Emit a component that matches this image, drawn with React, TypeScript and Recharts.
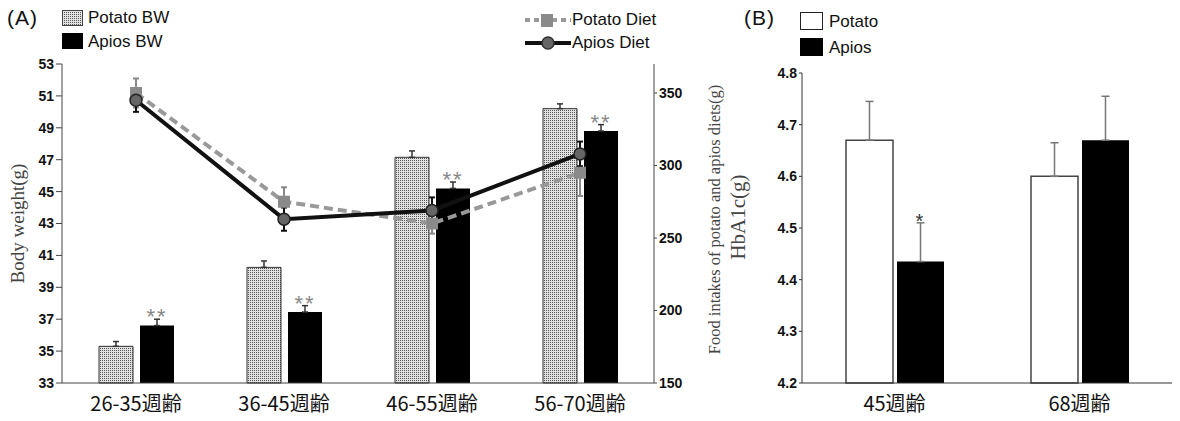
import React from "react";
import {
  ComposedChart,
  BarChart,
  Bar,
  Line,
  XAxis,
  YAxis,
  ErrorBar,
  LabelList,
  Legend,
  Label,
} from "recharts";

// (A) body weight + diet intake by age group
const ageGroups = ["26-35週齢", "36-45週齢", "46-55週齢", "56-70週齢"];
const potatoBW = [35.3, 40.25, 47.15, 50.2];
const potatoBWErr = [0.3, 0.4, 0.4, 0.3];
const apiosBW = [36.6, 37.45, 45.2, 48.8];
const apiosBWErr = [0.4, 0.4, 0.4, 0.4];
const potatoDiet = [350, 275, 260, 295];
const potatoDietErr = [10, 10, 7, 16];
const apiosDiet = [345, 263, 269, 308];
const apiosDietErr = [8, 8, 9, 8.5];
const bwSig = ["**", "**", "**", "**"];
const bwTicks = [33, 35, 37, 39, 41, 43, 45, 47, 49, 51, 53];
const dietTicks = [150, 200, 250, 300, 350];

// (B) HbA1c
const hbAges = ["45週齢", "68週齢"];
const potatoHb = [4.67, 4.6];
const potatoHbErr = [0.075, 0.065];
const apiosHb = [4.435, 4.67];
const apiosHbErr = [0.075, 0.085];
const hbSig = ["*", ""];
const hbTicks = [4.2, 4.3, 4.4, 4.5, 4.6, 4.7, 4.8];

const bwData = ageGroups.map((age, i) => ({
  age,
  potatoBW: potatoBW[i],
  potatoBWErr: [0, potatoBWErr[i]],
  apiosBW: apiosBW[i],
  apiosBWErr: [0, apiosBWErr[i]],
  potatoDiet: potatoDiet[i],
  potatoDietErr: potatoDietErr[i],
  apiosDiet: apiosDiet[i],
  apiosDietErr: apiosDietErr[i],
}));

const hbData = hbAges.map((age, i) => ({
  age,
  potato: potatoHb[i],
  potatoErr: [0, potatoHbErr[i]],
  apios: apiosHb[i],
  apiosErr: [0, apiosHbErr[i]],
}));

const sans = '"Liberation Sans", Arial, sans-serif';
const serif = '"Liberation Serif", "Times New Roman", serif';
const jp = '"Noto Sans CJK JP", sans-serif';

const tickStyle = { fontFamily: sans, fontSize: 14, fontWeight: 700, fill: "#111" };
const catStyle = { fontFamily: jp, fontSize: 20, fill: "#111" };

// stars sit just above the error bar; pxPerUnit comes from the plot height / domain
const starLabel =
  (sig: string[], errs: number[], pxPerUnit: number, size: number, color: string) =>
  (props: any) => {
    const { x, y, width, index } = props;
    const s = sig[index];
    if (!s) return null;
    const errTop = y - errs[index] * pxPerUnit;
    return (
      <text
        key={`star-${index}`}
        x={x + width / 2}
        y={errTop + 5}
        textAnchor="middle"
        fontFamily={sans}
        fontSize={size}
        fill={color}
        letterSpacing={2}
      >
        {s}
      </text>
    );
  };

const axisTitle =
  (text: string, dx: number, size: number, dy = 0) =>
  (props: any) => {
    const vb = props.viewBox;
    const cx = vb.x + dx;
    const cy = vb.y + vb.height / 2 + dy;
    return (
      <text
        x={cx}
        y={cy}
        transform={`rotate(-90 ${cx} ${cy})`}
        textAnchor="middle"
        dominantBaseline="central"
        fontFamily={serif}
        fontSize={size}
        fill="#444"
      >
        {text}
      </text>
    );
  };

const SquareDot = (p: any) => (
  <rect key={`sq-${p.index}`} x={p.cx - 6} y={p.cy - 6} width={12} height={12} fill="#8a8a8a" />
);

const txt = (left: number, cy: number, size: number, extra: any = {}) => ({
  position: "absolute" as const,
  left,
  top: cy - 11,
  lineHeight: "22px",
  fontSize: size,
  whiteSpace: "nowrap" as const,
  ...extra,
});

function LegendA() {
  return (
    <div style={{ position: "relative", width: 730, height: 60, fontFamily: sans, color: "#111" }}>
      <span style={txt(7, 18, 21, { letterSpacing: 1 })}>(A)</span>
      <svg style={{ position: "absolute", left: 62, top: 10 }} width={22} height={16}>
        <rect x={0.5} y={0.5} width={20} height={15} fill="url(#bwDots)" stroke="#444" />
      </svg>
      <span style={txt(88, 18, 17)}>Potato BW</span>
      <svg style={{ position: "absolute", left: 62, top: 33 }} width={22} height={16}>
        <rect x={0.5} y={0.5} width={20} height={15} fill="#000" stroke="#000" />
      </svg>
      <span style={txt(88, 42, 17)}>Apios BW</span>
      <svg style={{ position: "absolute", left: 525, top: 12 }} width={46} height={16}>
        <line x1={0} y1={8} x2={46} y2={8} stroke="#999" strokeWidth={4} strokeDasharray="5 4" />
        <rect x={16} y={2} width={12} height={13} fill="#8a8a8a" />
      </svg>
      <span style={txt(572, 20, 17)}>Potato Diet</span>
      <svg style={{ position: "absolute", left: 525, top: 35 }} width={46} height={16}>
        <line x1={0} y1={8} x2={46} y2={8} stroke="#111" strokeWidth={4} />
        <circle cx={23} cy={8} r={6} fill="#666" stroke="#333" strokeWidth={1.5} />
      </svg>
      <span style={txt(572, 43, 17)}>Apios Diet</span>
    </div>
  );
}

function LegendB() {
  return (
    <div style={{ position: "relative", width: 460, height: 60, fontFamily: sans, color: "#111" }}>
      <span style={txt(24, 18, 21, { letterSpacing: 1 })}>(B)</span>
      <svg style={{ position: "absolute", left: 80, top: 12 }} width={24} height={19}>
        <rect x={0.5} y={0.5} width={22} height={17} fill="#fff" stroke="#222" />
      </svg>
      <span style={txt(109, 22, 17)}>Potato</span>
      <svg style={{ position: "absolute", left: 80, top: 38 }} width={24} height={19}>
        <rect x={0.5} y={0.5} width={22} height={17} fill="#000" stroke="#000" />
      </svg>
      <span style={txt(109, 48, 17)}>Apios</span>
    </div>
  );
}

function BodyWeightChart() {
  return (
    <ComposedChart
      width={730}
      height={421}
      data={bwData}
      margin={{ top: 64, right: 0, bottom: 0, left: 0 }}
      barGap={7}
    >
      <XAxis
        dataKey="age"
        height={38}
        tickLine={false}
        tickSize={6}
        tickMargin={8}
        tick={catStyle}
        stroke="#444"
      />
      <YAxis
        yAxisId="bw"
        width={62}
        domain={[33, 53]}
        ticks={bwTicks}
        interval={0}
        tickSize={6}
        tickMargin={2}
        tick={tickStyle}
        stroke="#444"
      >
        <Label content={axisTitle("Body weight(g)", 17, 19)} />
      </YAxis>
      <YAxis
        yAxisId="diet"
        orientation="right"
        width={76}
        domain={[150, 370]}
        ticks={dietTicks}
        interval={0}
        tickSize={3}
        tickMargin={2}
        tick={{ ...tickStyle, textAnchor: "start" }}
        stroke="#444"
      >
        <Label content={axisTitle("Food intakes of potato and apios diets(g)", 60, 16.5, -4)} />
      </YAxis>
      <Legend
        layout="horizontal"
        verticalAlign="middle"
        align="center"
        wrapperStyle={{ left: 0, top: 0, width: 730, height: 60 }}
        content={() => <LegendA />}
      />
      <Bar
        yAxisId="bw"
        dataKey="potatoBW"
        name="Potato BW"
        barSize={34}
        fill="url(#bwDots)"
        stroke="#333"
        strokeWidth={1}
        isAnimationActive={false}
      >
        <ErrorBar dataKey="potatoBWErr" direction="y" width={3} stroke="#333" strokeWidth={1.5} />
      </Bar>
      <Bar
        yAxisId="bw"
        dataKey="apiosBW"
        name="Apios BW"
        barSize={34}
        fill="#000"
        isAnimationActive={false}
      >
        <ErrorBar dataKey="apiosBWErr" direction="y" width={3} stroke="#333" strokeWidth={1.5} />
        <LabelList dataKey="apiosBW" content={starLabel(bwSig, apiosBWErr, 15.95, 22, "#888")} />
      </Bar>
      <Line
        yAxisId="diet"
        dataKey="potatoDiet"
        name="Potato Diet"
        type="linear"
        stroke="#999"
        strokeWidth={4}
        strokeDasharray="9 5"
        dot={SquareDot}
        activeDot={false}
        isAnimationActive={false}
      >
        <ErrorBar dataKey="potatoDietErr" direction="y" width={3} stroke="#888" strokeWidth={2} />
      </Line>
      <Line
        yAxisId="diet"
        dataKey="apiosDiet"
        name="Apios Diet"
        type="linear"
        stroke="#111"
        strokeWidth={4}
        dot={{ r: 6, fill: "#666", stroke: "#222", strokeWidth: 1.5 }}
        activeDot={false}
        isAnimationActive={false}
      >
        <ErrorBar dataKey="apiosDietErr" direction="y" width={3} stroke="#111" strokeWidth={2} />
      </Line>
    </ComposedChart>
  );
}

function HbA1cChart() {
  return (
    <BarChart
      width={460}
      height={421}
      data={hbData}
      margin={{ top: 73, right: 8, bottom: 0, left: 0 }}
      barGap={4}
    >
      <XAxis
        dataKey="age"
        height={38}
        tickLine={false}
        tickSize={6}
        tickMargin={8}
        tick={catStyle}
        stroke="#333"
      />
      <YAxis
        width={82}
        domain={[4.2, 4.8]}
        ticks={hbTicks}
        interval={0}
        tickSize={3}
        tickMargin={2}
        tickFormatter={(v: number) => v.toFixed(1)}
        tick={tickStyle}
        stroke="#333"
      >
        <Label content={axisTitle("HbA1c(g)", 18, 21, -11)} />
      </YAxis>
      <Legend
        layout="horizontal"
        verticalAlign="middle"
        align="center"
        wrapperStyle={{ left: 0, top: 0, width: 460, height: 60 }}
        content={() => <LegendB />}
      />
      <Bar
        dataKey="potato"
        name="Potato"
        barSize={47}
        fill="#fff"
        stroke="#444"
        strokeWidth={1.5}
        isAnimationActive={false}
      >
        <ErrorBar dataKey="potatoErr" direction="y" width={4} stroke="#777" strokeWidth={1.5} />
      </Bar>
      <Bar dataKey="apios" name="Apios" barSize={47} fill="#000" isAnimationActive={false}>
        <ErrorBar dataKey="apiosErr" direction="y" width={4} stroke="#777" strokeWidth={1.5} />
        <LabelList dataKey="apios" content={starLabel(hbSig, apiosHbErr, 516.7, 20, "#333")} />
      </Bar>
    </BarChart>
  );
}

export default function App() {
  return (
    <div style={{ position: "absolute", left: 0, top: 0, width: 1180, height: 421, background: "#fff" }}>
      <svg width={0} height={0} style={{ position: "absolute" }}>
        <defs>
          <pattern id="bwDots" width={2} height={2} patternUnits="userSpaceOnUse">
            <rect width={2} height={2} fill="#e2e2e2" />
            <rect width={1} height={1} fill="#555" />
          </pattern>
        </defs>
      </svg>
      <div style={{ position: "absolute", left: 0, top: 0 }}>
        <BodyWeightChart />
      </div>
      <div style={{ position: "absolute", left: 720, top: 0 }}>
        <HbA1cChart />
      </div>
    </div>
  );
}
